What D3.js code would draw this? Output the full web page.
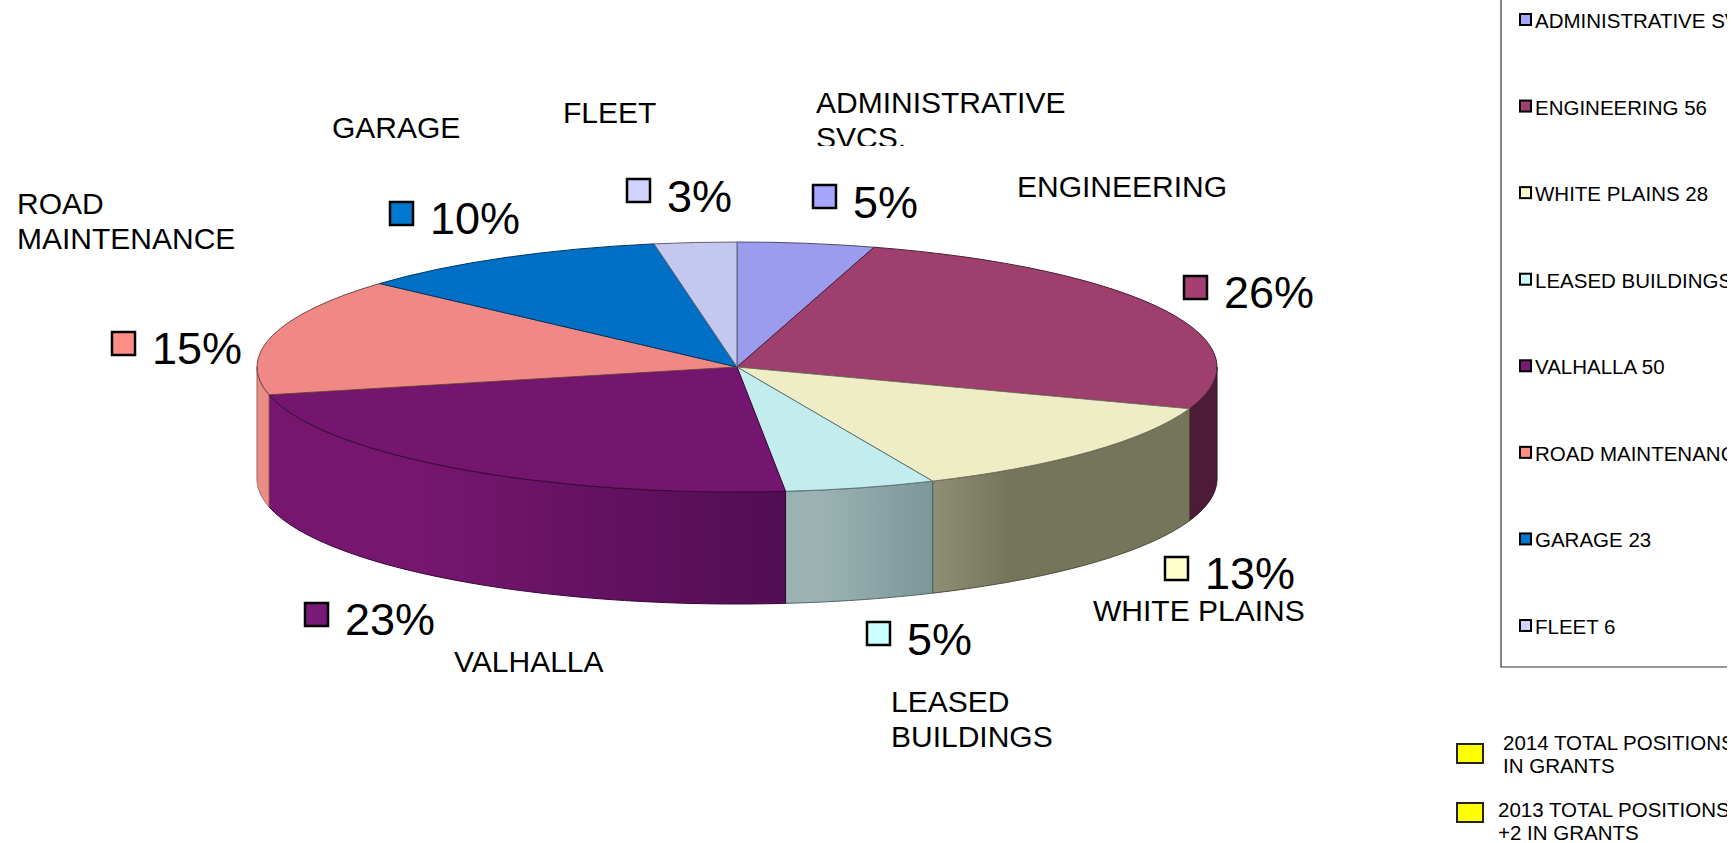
<!DOCTYPE html>
<html>
<head>
<meta charset="utf-8">
<script src="https://cdn.jsdelivr.net/npm/d3@7"></script>
<style>
  html, body { margin: 0; padding: 0; background: #fff; overflow: hidden; }
  text { font-family: "Liberation Sans", Arial, sans-serif; fill: #000; }
</style>
</head>
<body>
<div id="chart"></div>
<script>
// chart values
var categories = ["ADMINISTRATIVE SVCS.", "ENGINEERING", "WHITE PLAINS", "LEASED BUILDINGS", "VALHALLA", "ROAD MAINTENANCE", "GARAGE", "FLEET"];
var positions = [10, 56, 28, 11, 50, 33, 23, 6];
var percentLabels = ["5%", "26%", "13%", "5%", "23%", "15%", "10%", "3%"];
var noteLines = [["2014 TOTAL POSITIONS", "IN GRANTS"], ["2013 TOTAL POSITIONS", "+2 IN GRANTS"]];

// colours
var topColors = ["#9c9cee", "#9e3f6e", "#efedc6", "#c3ecef", "#74166f", "#f08885", "#0070c6", "#c5c8ee"];
var swatchColors = ["#a6a6ff", "#a33f72", "#ffffcc", "#ccffff", "#7a1a78", "#ff8f86", "#0078d0", "#d2d2ff"];
var wallLeft = ["#5a5aa0", "#4d1a38", "#8f8f76", "#9ab2b2", "#76166f", "#ea8d85", "#004a80", "#8080a0"];
var wallRight = ["#5a5aa0", "#4d1a38", "#75755b", "#7c9799", "#510d54", "#ea8d85", "#004a80", "#8080a0"];
// where the shading starts and stops along each wall
var wallFrom = [0, 0, 0, 0.25, 0.3, 0, 0, 0];
var wallTo = [1, 1, 0.3, 1, 1, 1, 1, 1];

var width = 1735, height = 843;
var cx = 737, cy = 367, rx = 480, ry = 125, depth = 112;

var svg = d3.select("#chart").append("svg")
    .attr("width", width)
    .attr("height", height)
    .style("display", "block");

var defs = svg.append("defs");

var pie = d3.pie().sort(null).value(function(d) { return d; });
var slices = pie(positions);

function px(a) { return cx + rx * Math.sin(a); }
function py(a) { return cy - ry * Math.cos(a); }

// side walls, only the part that faces the viewer
var wall = svg.append("g");
slices.forEach(function(s, i) {
  var a0 = Math.max(s.startAngle, Math.PI / 2);
  var a1 = Math.min(s.endAngle, Math.PI * 1.5);
  if (a0 >= a1) return;
  var steps = d3.range(0, 61).map(function(k) { return a0 + (a1 - a0) * k / 60; });
  var pts = steps.map(function(a) { return [px(a), py(a)]; })
    .concat(steps.slice().reverse().map(function(a) { return [px(a), py(a) + depth]; }));

  var x0 = px(a0), x1 = px(a1);
  var grad = defs.append("linearGradient")
      .attr("id", "wall" + i)
      .attr("gradientUnits", "userSpaceOnUse")
      .attr("x1", Math.min(x0, x1)).attr("x2", Math.max(x0, x1))
      .attr("y1", 0).attr("y2", 0);
  grad.append("stop").attr("offset", wallFrom[i]).attr("stop-color", wallLeft[i]);
  grad.append("stop").attr("offset", wallTo[i]).attr("stop-color", wallRight[i]);

  wall.append("path")
      .attr("d", d3.line()(pts) + "Z")
      .attr("fill", "url(#wall" + i + ")")
      .attr("stroke", d3.color(wallRight[i]).darker(1.2))
      .attr("stroke-width", 1);
});

// top of the pie, a flat arc squashed to the tilt
var arc = d3.arc().innerRadius(0).outerRadius(rx);
svg.append("g")
    .attr("transform", "translate(" + cx + "," + cy + ") scale(1," + (ry / rx) + ")")
  .selectAll("path")
  .data(slices)
  .enter().append("path")
    .attr("d", arc)
    .attr("fill", function(d, i) { return topColors[i]; })
    .attr("stroke", function(d, i) { return d3.color(topColors[i]).darker(2); })
    .attr("stroke-width", 1)
    .attr("vector-effect", "non-scaling-stroke");

// percent labels with their little keys
var pctSwatchX = [813, 1184, 1165, 867, 305, 112, 390, 627];
var pctSwatchY = [185, 276, 557, 622, 603, 332, 202, 179];
var pctTextY = [218, 308, 589, 655, 635, 364, 234, 212];

var pct = svg.append("g");
percentLabels.forEach(function(label, i) {
  pct.append("rect")
      .attr("x", pctSwatchX[i]).attr("y", pctSwatchY[i])
      .attr("width", 23).attr("height", 23)
      .attr("fill", swatchColors[i])
      .attr("stroke", "#000")
      .attr("stroke-width", 2.5);
  pct.append("text")
      .attr("x", pctSwatchX[i] + 40)
      .attr("y", pctTextY[i])
      .attr("font-size", 45)
      .text(label);
});

// category names around the pie
var nameLines = [["ADMINISTRATIVE", "SVCS."], ["ENGINEERING"], ["WHITE PLAINS"], ["LEASED", "BUILDINGS"], ["VALHALLA"], ["ROAD", "MAINTENANCE"], ["GARAGE"], ["FLEET"]];
var nameX = [816, 1017, 1093, 891, 454, 17, 332, 563];
var nameY = [113, 197, 621, 712, 672, 214, 138, 123];

defs.append("clipPath").attr("id", "nameClip")
  .append("rect").attr("x", 0).attr("y", 0).attr("width", width).attr("height", 146);

var names = svg.append("g");
nameLines.forEach(function(lines, i) {
  lines.forEach(function(line, j) {
    var t = names.append("text")
        .attr("x", nameX[i])
        .attr("y", nameY[i] + j * 35)
        .attr("font-size", 30)
        .text(line);
    if (i == 0) t.attr("clip-path", "url(#nameClip)");
  });
});

// legend box, its right side is cut off in the source
defs.append("clipPath").attr("id", "pageClip")
  .append("rect").attr("x", 0).attr("y", 0).attr("width", 1727).attr("height", height);

var legend = svg.append("g").attr("clip-path", "url(#pageClip)");
legend.append("path")
    .attr("d", "M1501,0V667H1735")
    .attr("fill", "none")
    .attr("stroke", "#333")
    .attr("stroke-width", 1.2);

var legendY = d3.scalePoint().domain(d3.range(categories.length)).range([28, 634]);
categories.forEach(function(name, i) {
  legend.append("rect")
      .attr("x", 1520).attr("y", legendY(i) - 14)
      .attr("width", 11).attr("height", 11)
      .attr("fill", swatchColors[i])
      .attr("stroke", "#000")
      .attr("stroke-width", 2);
  legend.append("text")
      .attr("x", 1535)
      .attr("y", legendY(i))
      .attr("font-size", 20.5)
      .text(name + " " + positions[i]);
});

// the two yellow notes under the legend
var noteTextX = [1503, 1498];
var noteBoxY = [744, 803];
var noteTextY = [750, 817];
noteLines.forEach(function(lines, i) {
  legend.append("rect")
      .attr("x", 1457).attr("y", noteBoxY[i])
      .attr("width", 26).attr("height", 19)
      .attr("fill", "#ffff00")
      .attr("stroke", "#222")
      .attr("stroke-width", 2);
  lines.forEach(function(line, j) {
    legend.append("text")
        .attr("x", noteTextX[i])
        .attr("y", noteTextY[i] + j * 23)
        .attr("font-size", 20.5)
        .text(line);
  });
});
</script>
</body>
</html>
